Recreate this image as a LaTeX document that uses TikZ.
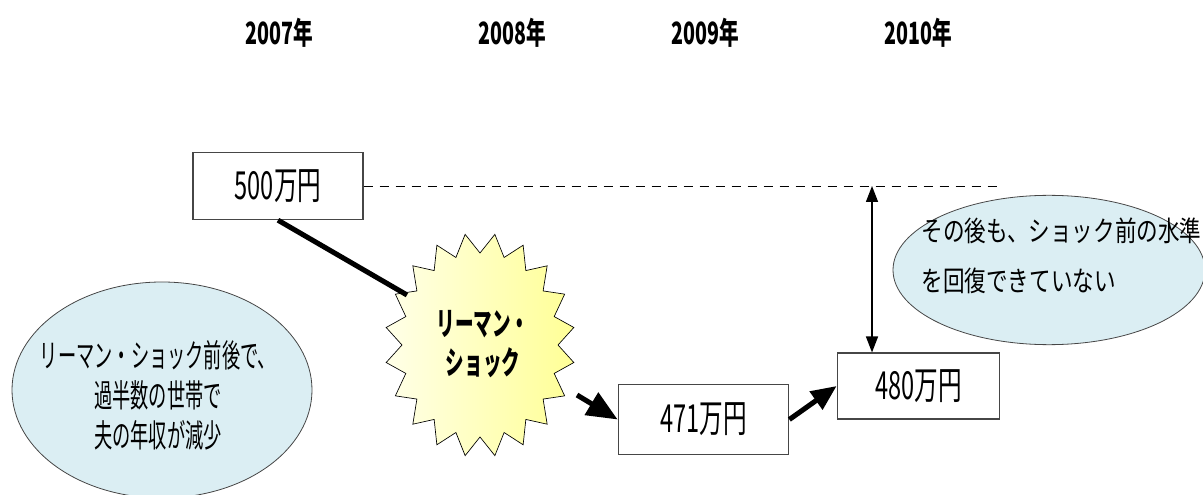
\documentclass[tikz,border=0pt]{standalone}
\usepackage{fontspec}
\usetikzlibrary{arrows.meta,shapes.geometric}
\newfontfamily\jpyear[FakeStretch=0.64]{Noto Sans CJK JP}
\newfontfamily\jpbox[FakeStretch=0.61]{Noto Sans CJK JP}
\newfontfamily\jpleft[FakeStretch=0.57]{Noto Sans CJK JP}
\newfontfamily\jpright[FakeStretch=0.77]{Noto Sans CJK JP}
\newfontfamily\jpburst[FakeStretch=0.58]{Noto Sans CJK JP}
\definecolor{ellfill}{RGB}{219,238,243}
\definecolor{edgegray}{RGB}{70,70,70}
\definecolor{burstL}{RGB}{255,255,232}
\definecolor{burstR}{RGB}{255,255,150}
\tikzset{
  yearlbl/.style={font=\jpyear\bfseries\fontsize{23}{27}\selectfont},
  valbox/.style={draw=edgegray, line width=0.8pt, fill=white, inner sep=0pt,
    font=\jpbox\fontsize{29}{32}\selectfont},
  bubble/.style={ellipse, draw=edgegray, line width=0.6pt, fill=ellfill, inner sep=0pt},
  thickline/.style={line width=3.8pt},
  bigarrow/.style={line width=3.8pt, -{Triangle[length=23pt,width=19pt]}},
}
\begin{document}
\begin{tikzpicture}[x=0.75pt,y=-0.75pt]
\useasboundingbox (0,0) rectangle (1203,495);
\clip (0,0) rectangle (1203,495);
% years
\node[yearlbl] (y07) at (279,33) {2007年};
\node[yearlbl] (y08) at (512,33) {2008年};
\node[yearlbl] (y09) at (705,33) {2009年};
\node[yearlbl] (y10) at (918,33) {2010年};
% value boxes
\node[valbox, minimum width=127.5pt, minimum height=50.5pt] (b500) at (278,186) {500万円};
\node[valbox, minimum width=128pt, minimum height=52pt] (b471) at (703.5,419.5) {471万円};
\node[valbox, minimum width=122pt, minimum height=49.5pt] (b480) at (918.5,386) {480万円};
% bubbles
\node[bubble, minimum width=225pt, minimum height=162pt] (ellL) at (162,390) {};
\node[font=\jpleft\fontsize{24}{30}\selectfont, align=center] (txtL) at (158,395)
  {リーマン・ショック前後で、\\過半数の世帯で\\夫の年収が減少};
\node[bubble, minimum width=234pt, minimum height=112pt] (ellR) at (1049,270) {};
\node[font=\jpright\fontsize{21}{37}\selectfont, align=left, anchor=west] (txtR) at (917,256)
  {その後も、ショック前の水準\\を回復できていない};
% starburst
\path[draw=black, line width=0.5pt, left color=burstL, right color=burstR]
  (480+78,345) \foreach \k in {0,...,19} {
    -- ({480+95*cos(9+18*\k)},{345-112*sin(9+18*\k)})
    -- ({480+78*cos(18+18*\k)},{345-92*sin(18+18*\k)}) } -- cycle;
\node[font=\jpburst\bfseries\fontsize{24}{29}\selectfont, align=center] (burst) at (483,344)
  {リーマン・\\ショック};
\coordinate (burstNW) at (407,295);
\coordinate (burstSE) at (577,395);
% dashed reference line
\coordinate (dashend) at (1000,186);
\draw[line width=0.7pt, dash pattern=on 7pt off 5pt] (b500.east) -- (dashend);
\coordinate (gaptop) at (872,186);
\draw[line width=1.1pt, {Triangle[length=12pt,width=9pt]}-{Triangle[length=12pt,width=9pt]}]
  (gaptop) -- (gaptop |- b480.north);
% connectors
\draw[thickline] (b500.south) -- (burstNW);
\draw[bigarrow] (burstSE) -- (b471.west);
\draw[bigarrow, -{Triangle[length=19pt,width=16pt]}] (b471.east) -- (b480.west);
\end{tikzpicture}
\end{document}
